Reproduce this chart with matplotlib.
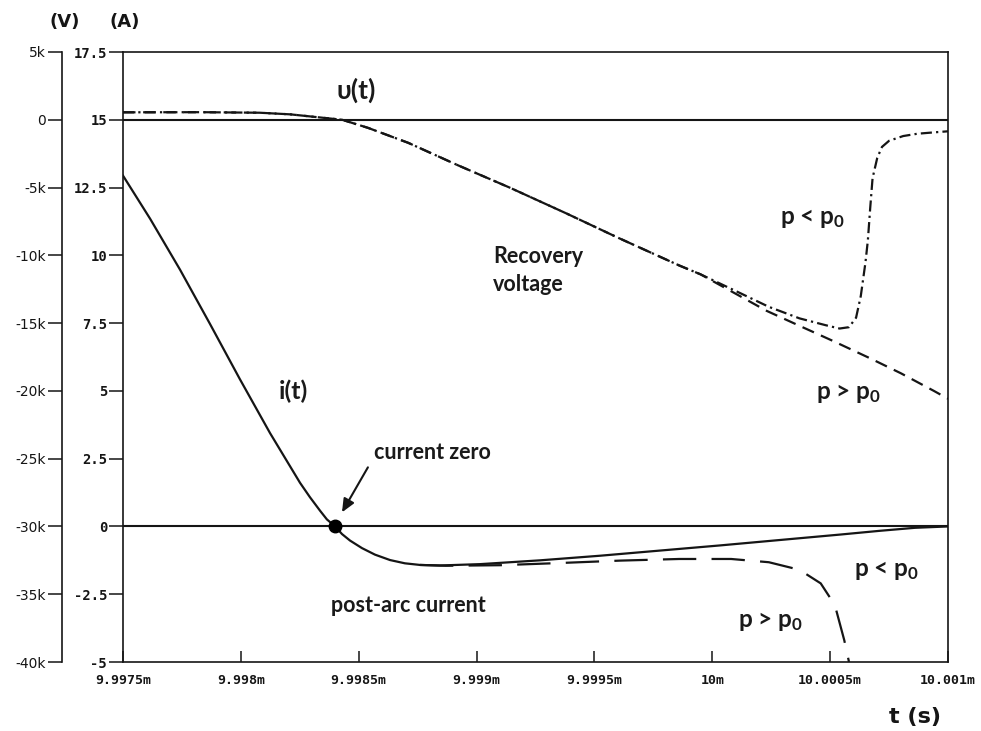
import matplotlib
matplotlib.use("Agg")
import matplotlib.pyplot as plt

plt.rcParams['axes.unicode_minus'] = False
plt.rcParams['lines.scale_dashes'] = False
plt.rcParams['mathtext.fontset'] = 'custom'
plt.rcParams['mathtext.rm'] = 'Lato'
plt.rcParams['mathtext.it'] = 'Lato:italic'
plt.rcParams['mathtext.bf'] = 'Lato:bold'

# ---- axes ticks -------------------------------------------------------
t_ticks = [9.9975, 9.998, 9.9985, 9.999, 9.9995, 10.0, 10.0005, 10.001]
t_tick_labels = ["9.9975m", "9.998m", "9.9985m", "9.999m", "9.9995m",
                 "10m", "10.0005m", "10.001m"]
i_ticks = [17.5, 15, 12.5, 10, 7.5, 5, 2.5, 0, -2.5, -5]
i_tick_labels = ["17.5", "15", "12.5", "10", "7.5", "5", "2.5", "0", "-2.5", "-5"]
u_ticks = [5000, 0, -5000, -10000, -15000, -20000, -25000, -30000, -35000, -40000]
u_tick_labels = ["5k", "0", "-5k", "-10k", "-15k", "-20k", "-25k", "-30k", "-35k", "-40k"]

# ---- current i(t) [A], time in ms -------------------------------------
# p < p0 : arc current, current zero, post-arc current decaying to zero
t_i_low = [9.997500, 9.997615, 9.997742, 9.997869, 9.997996, 9.998124,
           9.998251, 9.998293, 9.998336, 9.998365, 9.998400, 9.998429,
           9.998463, 9.998514, 9.998569, 9.998633, 9.998696, 9.998760,
           9.998845, 9.999015, 9.999269, 9.999524, 9.999778, 10.000033,
           10.000287, 10.000542, 10.000712, 10.000860, 10.001000]
i_low = [12.94, 11.35, 9.47, 7.47, 5.43, 3.44,
         1.61, 1.08, 0.58, 0.26, 0.0, -0.28,
         -0.52, -0.80, -1.04, -1.24, -1.36, -1.42,
         -1.44, -1.39, -1.25, -1.08, -0.89, -0.70,
         -0.50, -0.30, -0.16, -0.05, 0.0]
# p > p0 : post-arc current grows again (re-ignition)
t_i_high = [9.99876, 9.99887, 9.99910, 9.99935, 9.99961, 9.99986, 10.00008,
            10.00024, 10.00037, 10.00046, 10.00052, 10.00056, 10.00058]
i_high = [-1.42, -1.45, -1.43, -1.35, -1.26, -1.20, -1.20,
          -1.32, -1.60, -2.10, -2.90, -4.20, -5.00]

t_zero = 9.99840

# ---- voltage u(t) [V] -------------------------------------------------
# p < p0 : recovery voltage collapses (breakdown)
t_u_low = [9.99750, 9.99783, 9.99808, 9.99821, 9.99832, 9.99843, 9.99854,
           9.99871, 9.99892, 9.99914, 9.99938, 9.99960, 9.99986, 9.99995,
           10.00012, 10.00024, 10.00037, 10.00048, 10.00054, 10.00058,
           10.00061, 10.00063, 10.00065, 10.00066, 10.00067, 10.00068,
           10.00070, 10.00072, 10.00075, 10.00081, 10.00087, 10.00094, 10.00100]
u_low = [550, 560, 520, 400, 200, 0, -600,
         -1700, -3350, -5000, -6900, -8700, -10750, -11400,
         -12800, -13800, -14650, -15150, -15400, -15300,
         -14600, -13000, -10500, -8900, -6500, -4300,
         -2800, -2000, -1550, -1200, -1030, -930, -850]
# p > p0 : recovery voltage keeps rising
t_u_high = [9.99750, 9.99783, 9.99808, 9.99821, 9.99832, 9.99843, 9.99854,
            9.99871, 9.99892, 9.99914, 9.99938, 9.99960, 9.99986, 9.99995,
            10.00023, 10.00037, 10.00051, 10.00067, 10.00080, 10.00094, 10.00100]
u_high = [550, 560, 520, 400, 200, 0, -600,
          -1700, -3350, -5000, -6900, -8700, -10750, -11400,
          -14090, -15200, -16300, -17600, -18700, -20000, -20580]

INK = '#151515'
W, H = 981, 731
fig = plt.figure(figsize=(W / 100, H / 100), dpi=100)
ax = fig.add_axes([123 / W, 1 - 662 / H, (948 - 123) / W, (662 - 52) / H])
ax_u = ax.twinx()

# current axis
ax.set_xlim(t_ticks[0], t_ticks[-1])
ax.set_ylim(-5, 17.5)
ax.axhline(0, color=INK, lw=1.5, zorder=2)
ax.plot(t_i_low, i_low, color=INK, lw=1.6, zorder=3, solid_joinstyle='round')
ax.plot(t_i_high, i_high, color=INK, lw=1.6, dashes=(24, 11), zorder=3)
ax.plot([t_zero], [0], 'o', color='black', ms=9, zorder=5)

# voltage axis
ax_u.set_ylim(-40000, 5000)
ax_u.axhline(0, color=INK, lw=1.5, zorder=2)
ax_u.plot(t_u_high, u_high, color=INK, lw=1.6, dashes=(9, 5.5), zorder=3)
ax_u.plot(t_u_low, u_low, color=INK, lw=1.6, dashes=(8, 3, 1.6, 3), zorder=4)

tick_font = dict(fontfamily='DejaVu Sans Mono', fontweight='bold', fontsize=10, color=INK)
ax.set_xticks(t_ticks, t_tick_labels, **dict(tick_font, fontsize=9.5))
ax.set_yticks(i_ticks, i_tick_labels, **tick_font)
ax_u.set_yticks(u_ticks, u_tick_labels, **tick_font)

ax.tick_params(axis='x', direction='in', length=8, width=1.1, pad=9, colors=INK)
ax.tick_params(axis='y', direction='out', length=10, width=1.1, pad=1.5, colors=INK)
for s in ax.spines.values():
    s.set_linewidth(1.2)
    s.set_color(INK)

ax_u.yaxis.set_ticks_position('left')
ax_u.yaxis.set_label_position('left')
ax_u.spines['left'].set_position(('outward', 43.9))
ax_u.spines['left'].set_visible(True)
ax_u.spines['left'].set_linewidth(1.2)
ax_u.spines['left'].set_color(INK)
for side in ('right', 'top', 'bottom'):
    ax_u.spines[side].set_visible(False)
ax_u.tick_params(axis='y', direction='out', length=10, width=1.1, pad=1.5, colors=INK)

# ---- annotations ------------------------------------------------------
lab = dict(fontfamily='Lato', fontweight='bold', color='#1a1a1a')
ax.text(9.99849, 16.08, 'υ(t)', ha='center', va='center', fontsize=19, **lab)
ax.text(9.99907, 9.44, 'Recovery\nvoltage', ha='left', va='center',
        fontsize=15.5, linespacing=1.4, **lab)
ax.text(10.000423, 11.36, r'p < p$_{\mathbf{0}}$', ha='center', va='center', fontsize=17.5, **lab)
ax.text(10.000576, 4.90, r'p > p$_{\mathbf{0}}$', ha='center', va='center', fontsize=17.5, **lab)
ax.text(9.998221, 4.98, 'i(t)', ha='center', va='center', fontsize=18, **lab)
ax.text(9.998811, 2.73, 'current zero', ha='center', va='center', fontsize=15.5, **lab)
ax.text(9.998709, -2.91, 'post-arc current', ha='center', va='center', fontsize=15.5, **lab)
ax.text(10.000737, -1.62, r'p < p$_{\mathbf{0}}$', ha='center', va='center', fontsize=17.5, **lab)
ax.text(10.000245, -3.50, r'p > p$_{\mathbf{0}}$', ha='center', va='center', fontsize=17.5, **lab)

ax.annotate('', xy=(9.998429, 0.52), xytext=(9.998539, 2.18),
            arrowprops=dict(arrowstyle='-|>,head_length=0.8,head_width=0.35',
                            color=INK, lw=1.5, shrinkA=0, shrinkB=0))

fig.text(65 / W, 1 - 22 / H, '(V)', ha='center', va='center', fontsize=13,
         fontfamily='DejaVu Sans', fontweight='bold', color=INK)
fig.text(125 / W, 1 - 22 / H, '(A)', ha='center', va='center', fontsize=13,
         fontfamily='DejaVu Sans', fontweight='bold', color=INK)
fig.text(915 / W, 1 - 717 / H, 't (s)', ha='center', va='center', fontsize=16,
         fontfamily='DejaVu Sans', fontweight='bold', color=INK)

fig.savefig('out.png', dpi=100)
